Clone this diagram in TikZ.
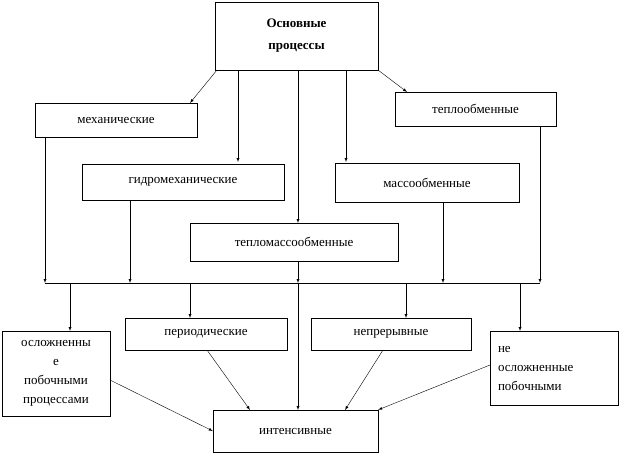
\documentclass[tikz,border=0pt]{standalone}
\usepackage{fontspec}
\setmainfont{Liberation Serif}
\begin{document}
\begin{tikzpicture}[x=1pt,y=-1pt,font=\fontsize{13}{19}\selectfont,
	box/.style={draw,inner sep=1pt,align=center},
	arr/.style={-latex}]
	\useasboundingbox (0,0) rectangle (626,456);
	% boxes
	\node [box,minimum width=163,minimum height=68,font=\fontsize{13}{22}\selectfont\bfseries] (main) at (296.5,36) {Основные\\процессы};
	\node [box,minimum width=162,minimum height=34] (mech) at (116,120) {механические};
	\node [box,minimum width=161,minimum height=34] (heat) at (475.5,109) {теплообменные};
	\node [box,minimum width=202,minimum height=36] (hydro) at (183,182) {гидромеханические};
	\node [box,minimum width=184,minimum height=39] (mass) at (427,182.5) {массообменные};
	\node [box,minimum width=208,minimum height=38] (hm) at (294,242) {тепломассообменные};
	\node [box,minimum width=108,minimum height=85] (compl) at (56,373.5) {осложненны\\е\\побочными\\процессами};
	\node [box,minimum width=162,minimum height=32] (per) at (206,334) {периодические};
	\node [box,minimum width=160,minimum height=32] (cont) at (391,334) {непрерывные};
	\node [box,minimum width=128,minimum height=74,align=left,text width=112,anchor=north] (ncompl) at (554,331) {не\\осложненные\\побочными};
	\node [box,minimum width=165,minimum height=42] (int) at (295.5,431) {интенсивные};
	% bus
	\coordinate (bl) at (45,283);
	\coordinate (br) at (540,283);
	\draw (bl) -- (br);
	% from main box
	\draw [arr] (217,70) -- (190,103);
	\draw [arr] (238,70) -- (238,162);
	\draw [arr] (298,70) -- (298,223);
	\draw [arr] (346,70) -- (346,162);
	\draw [arr] (378,70) -- (407,92);
	% to bus
	\draw [arr] (45,137) -- (bl);
	\draw [arr] (130,200) -- (130,283);
	\draw [arr] (298,261) -- (298,283);
	\draw [arr] (443,202) -- (443,283);
	\draw [arr] (540,126) -- (br);
	% from bus
	\draw [arr] (70,283) -- (70,331);
	\draw [arr] (190,283) -- (190,318);
	\draw [arr] (298,283) -- (298,410);
	\draw [arr] (406,283) -- (406,318);
	\draw [arr] (520,283) -- (520,331);
	% to intensive
	\draw [arr] (110,380) -- (int.west);
	\draw [arr] (207,350) -- (250,410);
	\draw [arr] (383,350) -- (345,410);
	\draw [arr] (490,365) -- (int.north east);
\end{tikzpicture}
\end{document}
